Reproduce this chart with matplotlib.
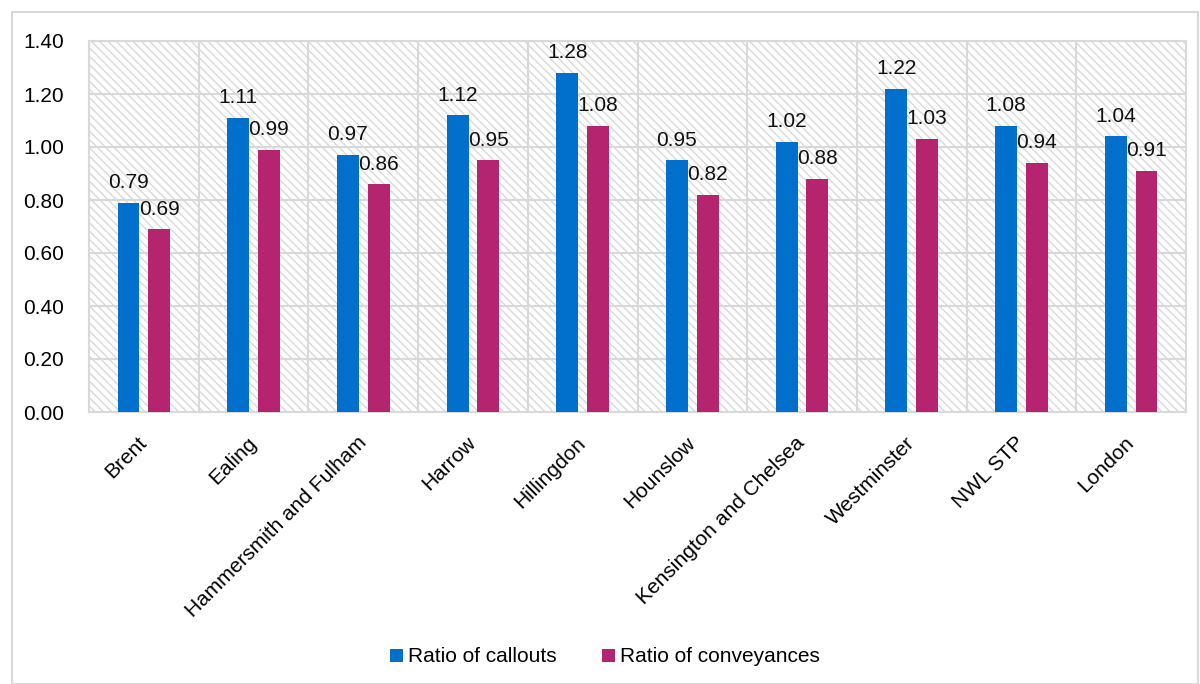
import matplotlib.pyplot as plt
import numpy as np
from matplotlib.patches import Rectangle

plt.rcParams['font.family'] = ['Liberation Sans', 'DejaVu Sans']
plt.rcParams['hatch.color'] = '#dcdcdc'
plt.rcParams['hatch.linewidth'] = 1.0

# data
areas = ['Brent', 'Ealing', 'Hammersmith and Fulham', 'Harrow', 'Hillingdon',
         'Hounslow', 'Kensington and Chelsea', 'Westminster', 'NWL STP', 'London']
callouts = [0.79, 1.11, 0.97, 1.12, 1.28, 0.95, 1.02, 1.22, 1.08, 1.04]
conveyances = [0.69, 0.99, 0.86, 0.95, 1.08, 0.82, 0.88, 1.03, 0.94, 0.91]
yticks = [0.0, 0.2, 0.4, 0.6, 0.8, 1.0, 1.2, 1.4]

blue = '#0070cc'
pink = '#b5246f'
grey = '#d9d9d9'
fs = 15

fig = plt.figure(figsize=(12, 6.84), dpi=100)
# outer border of the chart
fig.patches.append(Rectangle((12/1200, 0.0), 1186/1200, 1 - 12/684,
                             transform=fig.transFigure, fill=False,
                             edgecolor=grey, linewidth=1.5))

ax = fig.add_axes([89/1200, 1 - 412/684, 1097/1200, 371/684])
ax.set_facecolor('white')
ax.add_patch(Rectangle((0, 0), 1, 1, transform=ax.transAxes, facecolor='white',
                       edgecolor=grey, hatch='\\\\\\\\', linewidth=0, zorder=0))

x = np.arange(len(areas))
w = 0.2
off = 0.14
b1 = ax.bar(x - off, callouts, w, color=blue, label='Ratio of callouts', zorder=3)
b2 = ax.bar(x + off, conveyances, w, color=pink, label='Ratio of conveyances', zorder=3)

for bars in (b1, b2):
    for r in bars:
        ax.text(r.get_x() + r.get_width() / 2, r.get_height() + 0.04,
                '%.2f' % r.get_height(), ha='center', va='bottom',
                fontsize=fs, color='#111111', zorder=4)

ax.set_xlim(-0.5, len(areas) - 0.5)
ax.set_ylim(0, 1.4)
ax.set_yticks(yticks)
ax.set_yticklabels(['%.2f' % v for v in yticks], fontsize=fs)
ax.set_xticks(x)
ax.set_xticklabels(areas, rotation=45, ha='right', va='center',
                   rotation_mode='anchor', fontsize=fs)
ax.set_xticks(np.arange(len(areas) - 1) + 0.5, minor=True)
ax.tick_params(axis='both', which='both', length=0)
ax.tick_params(axis='x', pad=20)
ax.tick_params(axis='y', pad=18)

ax.grid(axis='y', which='major', color=grey, linewidth=1.5, zorder=1)
ax.grid(axis='x', which='minor', color=grey, linewidth=1.5, zorder=1)
ax.grid(axis='x', which='major', visible=False)
ax.set_axisbelow(True)
for s in ax.spines.values():
    s.set_color(grey)
    s.set_linewidth(1.5)

fig.legend(handles=[b1, b2], loc='center', bbox_to_anchor=(605/1200, 1 - 657/684),
           ncol=2, frameon=False, fontsize=fs, handlelength=0.6, handleheight=0.6,
           handletextpad=0.25, columnspacing=2.2)

fig.savefig('out.png', dpi=100)
